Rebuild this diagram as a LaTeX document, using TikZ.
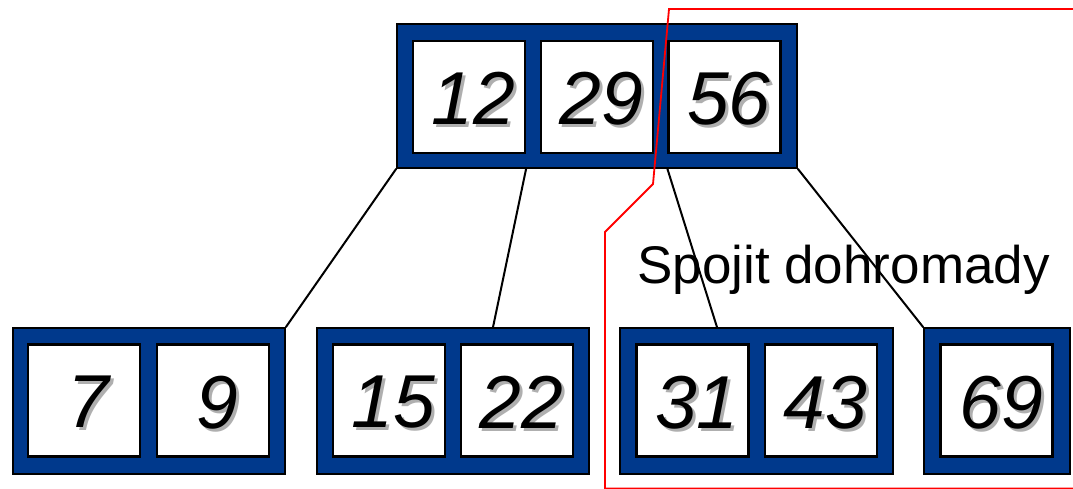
\documentclass[tikz,border=0pt]{standalone}
\usepackage{fontspec}
\setmainfont{Liberation Sans}
\usetikzlibrary{calc}
\definecolor{nodeblue}{RGB}{0,57,140}
\definecolor{shadowgray}{RGB}{175,175,175}
\newcommand\shnum[1]{{\fontsize{75}{80}\selectfont\itshape\raisebox{-3pt}{\kern9pt\rlap{\kern3pt\raisebox{-3pt}{\color{shadowgray}#1}}#1}}}
\tikzset{
  outerbox/.style={draw=black, line width=1.6pt, fill=nodeblue, inner sep=0pt},
  cellbox/.style={draw=black, line width=2.2pt, fill=white, inner sep=0pt, minimum width=112pt, minimum height=112pt, text depth=0pt},
  treeedge/.style={draw=black, line width=2pt},
  mergeline/.style={draw=red, line width=1.8pt},
}
\begin{document}
\begin{tikzpicture}[x=1pt,y=-1pt]
\useasboundingbox (0,0) rectangle (1073,488);
% top node
\node[outerbox, minimum width=400pt, minimum height=144pt] (top) at (597,96) {};
\node[cellbox] (t1) at (469,97) {\shnum{12}};
\node[cellbox] (t2) at (597,97) {\shnum{29}};
\node[cellbox] (t3) at (724.5,97) {\shnum{56}};
% bottom nodes
\node[outerbox, minimum width=272pt, minimum height=146pt] (n1) at (149,401) {};
\node[cellbox] (a1) at (84,400.5) {\shnum{7}};
\node[cellbox] (a2) at (213,400.5) {\shnum{9}};
\node[outerbox, minimum width=272pt, minimum height=146pt] (n2) at (453,401) {};
\node[cellbox] (b1) at (389,400.5) {\shnum{15}};
\node[cellbox] (b2) at (517,400.5) {\shnum{22}};
\node[outerbox, minimum width=273pt, minimum height=146pt] (n3) at (756.5,401) {};
\node[cellbox] (c1) at (692.5,400.5) {\shnum{31}};
\node[cellbox] (c2) at (821,400.5) {\shnum{43}};
\node[outerbox, minimum width=146pt, minimum height=146pt] (n4) at (997,401) {};
\node[cellbox] (d1) at (996.5,400.5) {\shnum{69}};
% edges
\draw[treeedge] (top.south west) -- (n1.north east);
\draw[treeedge] (t1.south east |- top.south) -- ($(n2.north)+(40,0)$);
\draw[treeedge] (t3.south west |- top.south) -- ($(n3.north)+(-39.5,0)$);
\draw[treeedge] (top.south east) -- (n4.north west);
% merge region
\coordinate (r0) at (1075,9);
\coordinate (r1) at (669,9);
\coordinate (r2) at (653,184);
\coordinate (r3) at (605,232);
\coordinate (r4) at (605,488.6);
\coordinate (r5) at (1075,488.6);
\draw[mergeline] (r0) -- (r1) -- (r2) -- (r3) -- (r4) -- (r5);
\node[anchor=base, inner sep=0pt, font=\fontsize{53}{57}\selectfont] (lbl) at (843.5,283) {Spojit dohromady};
\end{tikzpicture}
\end{document}
